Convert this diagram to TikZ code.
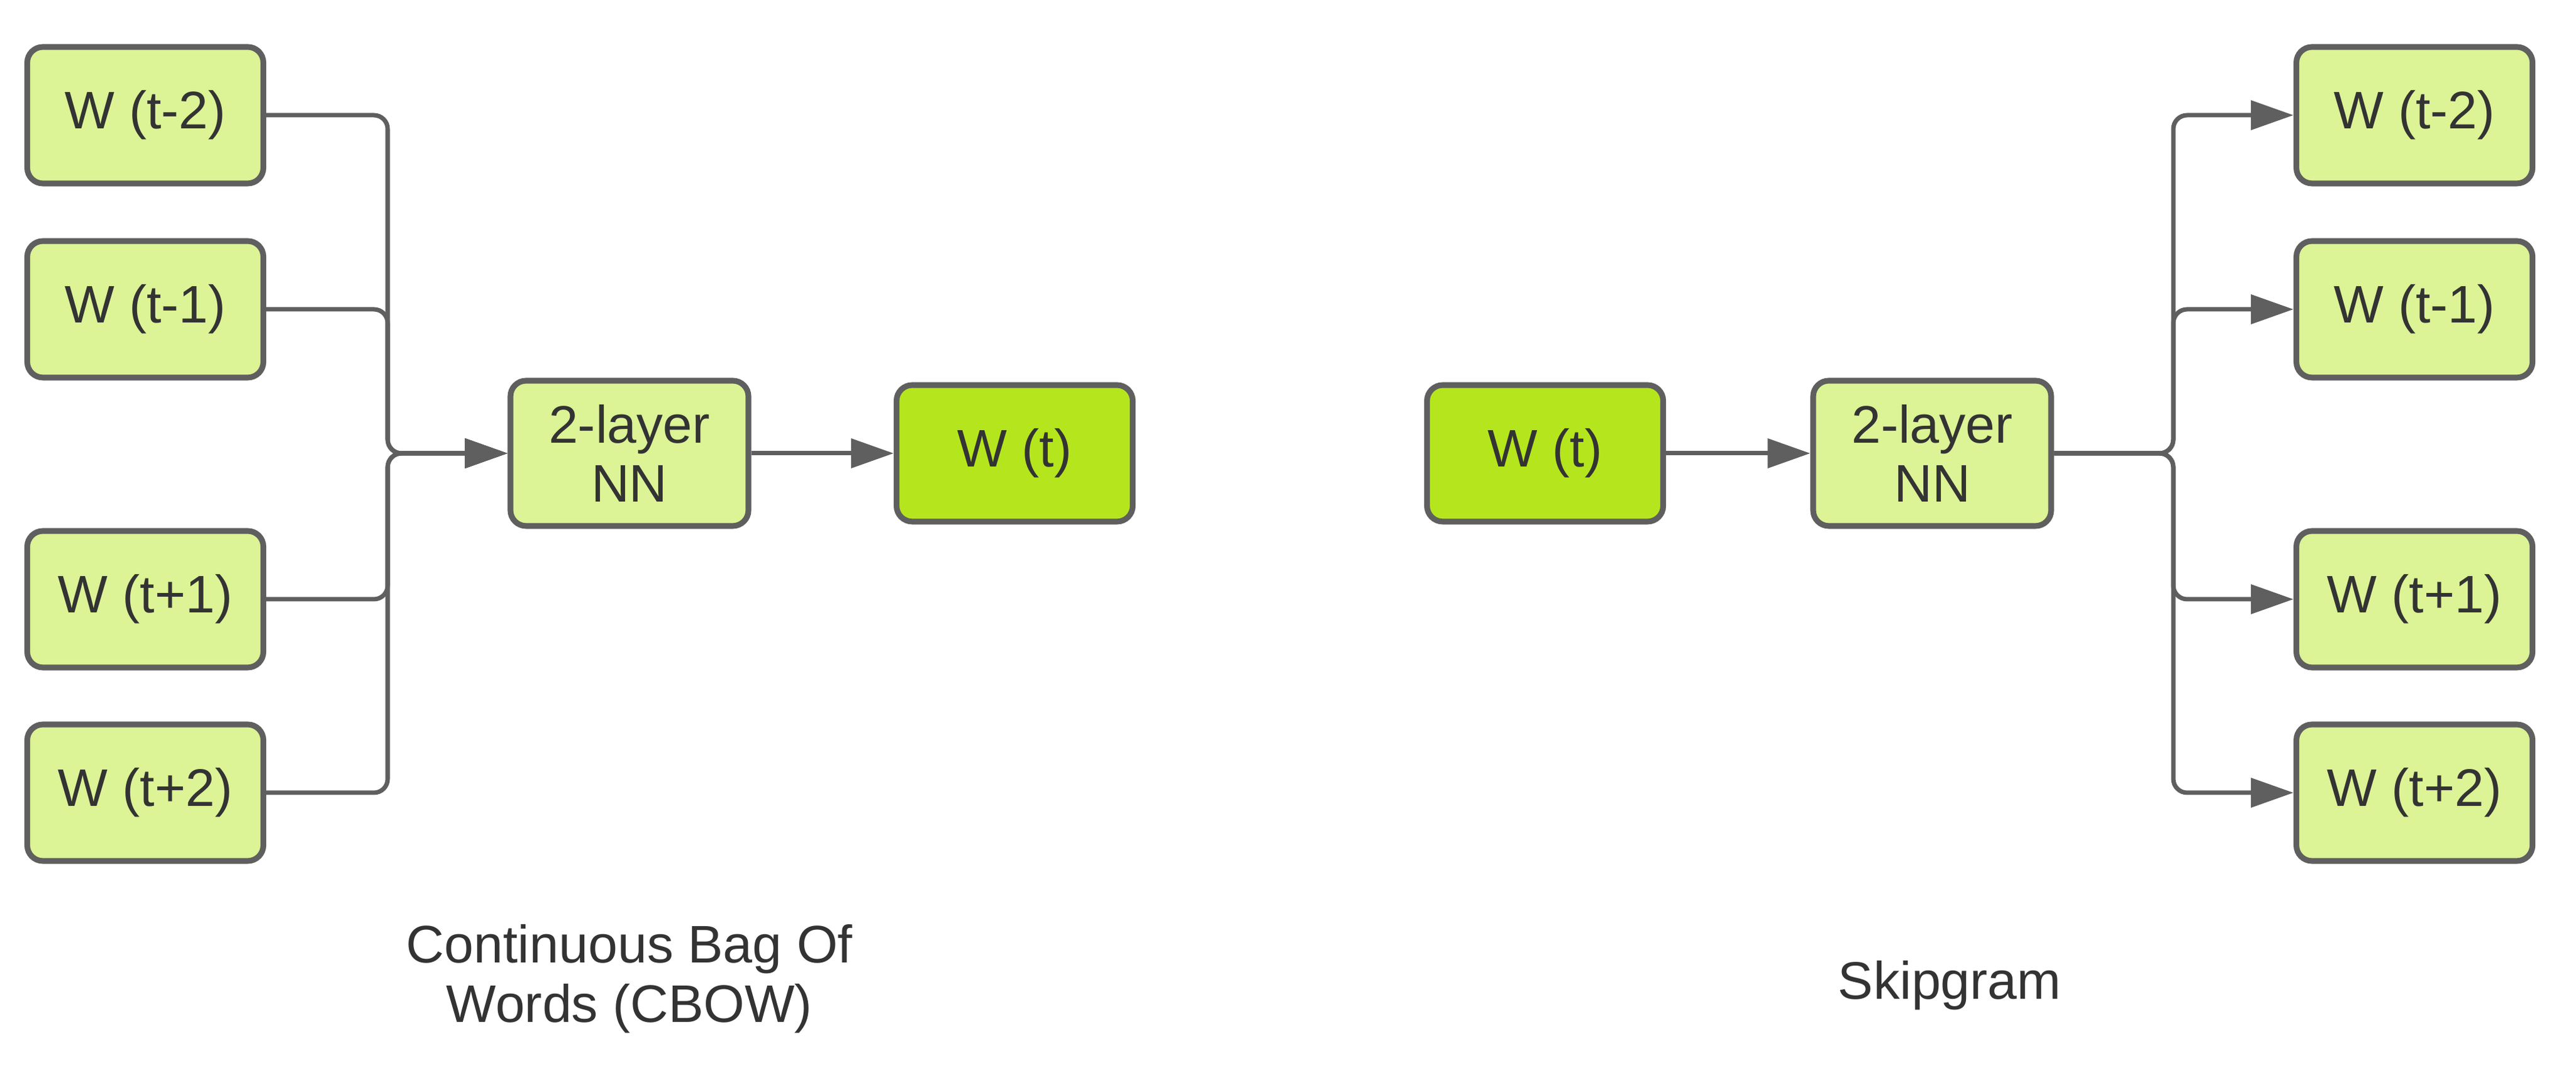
\documentclass[tikz,border=0pt]{standalone}
\usepackage{fontspec}
\setmainfont{Liberation Sans}
\usetikzlibrary{arrows.meta}
\definecolor{wordlight}{HTML}{DCF396}
\definecolor{wordbright}{HTML}{B5E61D}
\definecolor{edgegrey}{HTML}{5F5F5F}
\definecolor{textgrey}{HTML}{333333}

\begin{document}
\begin{tikzpicture}[
  wordbox/.style={draw=edgegrey, line width=2.6pt, fill=wordlight, rounded corners=0.25cm, minimum width=3.77cm, minimum height=2.18cm, inner sep=0pt, text=textgrey, font=\fontsize{24}{27}\selectfont, align=center},
  targetbox/.style={wordbox, fill=wordbright},
  nnbox/.style={wordbox, minimum width=3.8cm, minimum height=2.32cm},
  link/.style={draw=edgegrey, line width=2pt, rounded corners=0.22cm, -{Triangle[length=0.68cm, width=0.46cm]}},
  caption/.style={text=textgrey, font=\fontsize{24}{27}\selectfont, align=center}
]
\useasboundingbox (0,0) rectangle (41.13,17.04);

\node[wordbox] (cbowm2) at (2.32,15.20) {W (t-2)};
\node[wordbox] (cbowm1) at (2.32,12.10) {W (t-1)};
\node[wordbox] (cbowp1) at (2.32,7.47) {W (t+1)};
\node[wordbox] (cbowp2) at (2.32,4.38) {W (t+2)};
\node[nnbox] (cbownn) at (10.05,9.80) {2-layer\\NN};
\node[targetbox] (cbowt) at (16.20,9.80) {W (t)};
\coordinate (cbowbus) at (6.19,9.80);

\draw[link] (cbowm2.east) -| (cbowbus) -- (cbownn.west);
\draw[link] (cbowm1.east) -| (cbowbus) -- (cbownn.west);
\draw[link] (cbowp1.east) -| (cbowbus) -- (cbownn.west);
\draw[link] (cbowp2.east) -| (cbowbus) -- (cbownn.west);
\draw[link] (cbownn.east) -- (cbowt.west);

\node[targetbox] (skipt) at (24.67,9.80) {W (t)};
\node[nnbox] (skipnn) at (30.85,9.80) {2-layer\\NN};
\node[wordbox] (skipm2) at (38.55,15.20) {W (t-2)};
\node[wordbox] (skipm1) at (38.55,12.10) {W (t-1)};
\node[wordbox] (skipp1) at (38.55,7.47) {W (t+1)};
\node[wordbox] (skipp2) at (38.55,4.38) {W (t+2)};
\coordinate (skipbus) at (34.70,9.80);

\draw[link] (skipt.east) -- (skipnn.west);
\draw[link] (skipnn.east) -- (skipbus) |- (skipm2.west);
\draw[link] (skipnn.east) -- (skipbus) |- (skipm1.west);
\draw[link] (skipnn.east) -- (skipbus) |- (skipp1.west);
\draw[link] (skipnn.east) -- (skipbus) |- (skipp2.west);

\node[caption] (cbowlabel) at (10.05,1.41) {Continuous Bag Of\\Words (CBOW)};
\node[caption] (skiplabel) at (31.13,1.30) {Skipgram};
\end{tikzpicture}
\end{document}
